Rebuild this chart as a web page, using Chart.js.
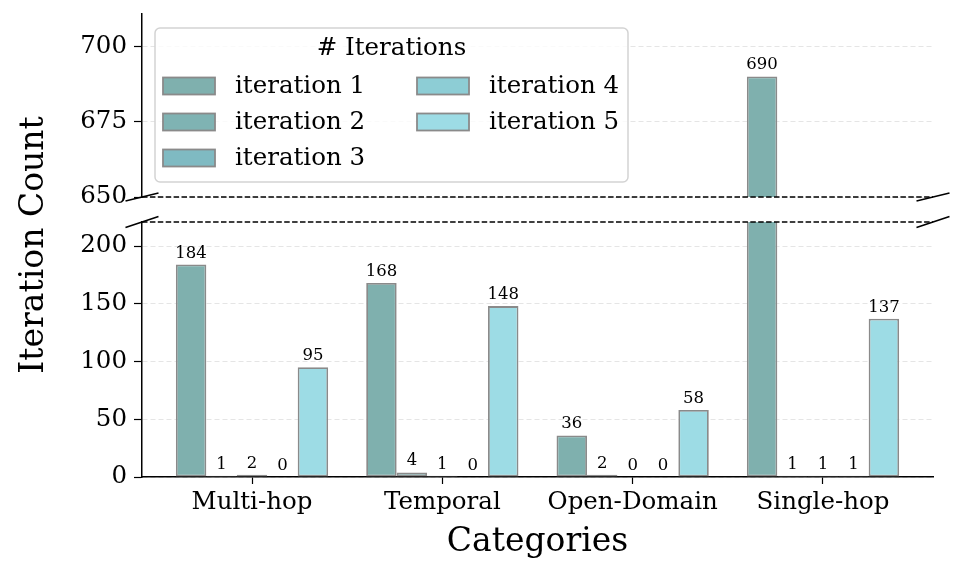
<!DOCTYPE html>
<html>
<head>
<meta charset="utf-8">
<script src="https://cdn.jsdelivr.net/npm/chart.js@4.4.1/dist/chart.umd.min.js"></script>
<style>
  html, body { margin: 0; padding: 0; background: #fff; }
  #wrap { position: relative; width: 964px; height: 572px; }
  #wrap canvas { position: absolute; left: 0; top: 0; }
</style>
</head>
<body>
<div id="wrap">
  <canvas id="chartBajo" width="964" height="572"></canvas>
  <canvas id="chartAlto" width="964" height="205"></canvas>
</div>
<script>
/**************************************
 * 1. DATOS
 **************************************/
const categorias = ["Multi-hop", "Temporal", "Open-Domain", "Single-hop"];
const iteracion1 = [184, 168, 36, 690];
const iteracion2 = [1, 4, 2, 1];
const iteracion3 = [2, 1, 0, 1];
const iteracion4 = [0, 0, 0, 1];
const iteracion5 = [95, 148, 58, 137];

const nombres = ["iteration 1", "iteration 2", "iteration 3", "iteration 4", "iteration 5"];
const colores = ["#7fb0ae", "#7fb3b3", "#7fbac2", "#8dcdd5", "#9ddce5"];

const ticksAlto = [650, 675, 700];
const ticksBajo = [0, 50, 100, 150, 200];
const rangoAlto = [650, 710.7];
const rangoBajo = [0, 220.8];

const series = [iteracion1, iteracion2, iteracion3, iteracion4, iteracion5];
const FUENTE = "'DejaVu Serif', serif";

Chart.defaults.font.family = FUENTE;
Chart.defaults.color = "#000";

/**************************************
 * 2. PLUGINS (etiquetas, corte del eje, leyenda)
 **************************************/
const etiquetasValor = {
    id: "etiquetasValor",
    afterDatasetsDraw(chart) {
        const ctx = chart.ctx;
        const maxY = chart.scales.y.max;
        ctx.save();
        ctx.font = "16.5px " + FUENTE;
        ctx.fillStyle = "#000";
        ctx.textAlign = "center";
        ctx.textBaseline = "bottom";
        chart.data.datasets.forEach((ds, i) => {
            chart.getDatasetMeta(i).data.forEach((barra, j) => {
                const v = ds.data[j].y;
                if (v === null || v > maxY) return;
                ctx.fillText(String(v), barra.x, barra.y - 3);
            });
        });
        ctx.restore();
    }
};

// linea discontinua + marcas diagonales del eje partido
const corteEje = {
    id: "corteEje",
    afterDraw(chart, args, opts) {
        const { ctx, chartArea } = chart;
        const y = opts.lado === "abajo" ? chartArea.bottom : chartArea.top;
        const dy = opts.dy;
        ctx.save();
        ctx.strokeStyle = "#000";
        ctx.lineWidth = 1.5;
        ctx.setLineDash([5.5, 2.4]);
        ctx.beginPath();
        ctx.moveTo(chartArea.left, y);
        ctx.lineTo(chartArea.right, y);
        ctx.stroke();
        ctx.setLineDash([]);
        [chartArea.left, chartArea.right].forEach(x => {
            ctx.beginPath();
            ctx.moveTo(x - 16.5, y + dy);
            ctx.lineTo(x + 16.5, y - dy);
            ctx.stroke();
        });
        ctx.restore();
    }
};

const leyenda = {
    id: "leyenda",
    afterDatasetsDraw(chart) {
        const { ctx, chartArea } = chart;
        const x0 = chartArea.left + 13, y0 = chartArea.top + 14;
        const w = 473, h = 154;
        ctx.save();
        ctx.fillStyle = "rgba(255,255,255,0.8)";
        ctx.strokeStyle = "#d3d3d3";
        ctx.lineWidth = 1.5;
        ctx.beginPath();
        ctx.roundRect(x0, y0, w, h, 5);
        ctx.fill();
        ctx.stroke();

        ctx.fillStyle = "#000";
        ctx.font = "24.5px " + FUENTE;
        ctx.textAlign = "center";
        ctx.textBaseline = "middle";
        ctx.fillText("# Iterations", x0 + w / 2, y0 + 21);

        ctx.textAlign = "left";
        chart.data.datasets.forEach((ds, i) => {
            const col = i < 3 ? 0 : 1;
            const fila = i < 3 ? i : i - 3;
            const px = x0 + 8 + col * 254;
            const py = y0 + 58 + fila * 36;
            ctx.fillStyle = ds.backgroundColor;
            ctx.fillRect(px, py - 8.5, 52, 17);
            ctx.strokeStyle = "#8a8a8a";
            ctx.lineWidth = 1.8;
            ctx.strokeRect(px, py - 8.5, 52, 17);
            ctx.fillStyle = "#000";
            ctx.fillText(ds.label, px + 72, py + 1);
        });
        ctx.restore();
    }
};

const tituloY = {
    id: "tituloY",
    afterDraw(chart) {
        const ctx = chart.ctx;
        ctx.save();
        ctx.translate(34, 245);
        ctx.rotate(-Math.PI / 2);
        ctx.font = "33px " + FUENTE;
        ctx.fillStyle = "#000";
        ctx.textAlign = "center";
        ctx.textBaseline = "middle";
        ctx.fillText("Iteration Count", 0, 0);
        ctx.restore();
    }
};

/**************************************
 * 3. GRAFICAS (panel alto y panel bajo)
 **************************************/
function armarDatasets(filtro) {
    return series.map((valores, i) => ({
        label: nombres[i],
        data: valores.map((v, j) => ({ x: j, y: filtro(v) ? v : null })),
        backgroundColor: colores[i],
        borderColor: "#8a8a8a",
        borderWidth: 1.8,
        borderSkipped: false,
        categoryPercentage: 0.8,
        barPercentage: 1.0,
        clip: 0
    }));
}

function ejeX(visible) {
    return {
        type: "linear",
        display: visible,
        offset: false,
        min: -0.578,
        max: 3.578,
        afterBuildTicks: s => { s.ticks = categorias.map((c, i) => ({ value: i })); },
        afterFit: s => {
            if (visible) s.height = 95;
            s.paddingLeft = 0;
            s.paddingRight = 0;
        },
        ticks: {
            callback: v => categorias[v],
            font: { size: 24.5 },
            color: "#000",
            padding: 4,
            autoSkip: false,
            maxRotation: 0
        },
        grid: { display: true, offset: false, drawOnChartArea: false, tickLength: 7, tickColor: "#000", tickWidth: 1.2 },
        border: { color: "#000", width: 1.5 },
        title: {
            display: visible,
            text: "Categories",
            font: { size: 33 },
            color: "#000",
            padding: { top: 0, bottom: 10 }
        }
    };
}

function ejeY(rango, marcas) {
    return {
        min: rango[0],
        max: rango[1],
        afterBuildTicks: s => { s.ticks = marcas.map(v => ({ value: v })); },
        afterFit: s => {
            s.width = 142;
            s.paddingTop = 0;
            s.paddingBottom = 0;
        },
        ticks: { font: { size: 24.5 }, color: "#000", padding: 7 },
        grid: {
            color: "rgba(0,0,0,0.1)",
            tickColor: "#000",
            tickLength: 8,
            tickWidth: 1.2,
            tickBorderDash: []
        },
        border: { color: "#000", width: 1.5, dash: [5, 3] }
    };
}

new Chart(document.getElementById("chartBajo"), {
    type: "bar",
    data: { datasets: armarDatasets(v => true) },
    options: {
        responsive: false,
        animation: false,
        layout: { padding: { top: 222, right: 31, left: 0, bottom: 0 } },
        plugins: {
            legend: { display: false },
            tooltip: { enabled: false },
            corteEje: { lado: "arriba", dy: 5.5 }
        },
        scales: { x: ejeX(true), y: ejeY(rangoBajo, ticksBajo) }
    },
    plugins: [etiquetasValor, corteEje, tituloY]
});

new Chart(document.getElementById("chartAlto"), {
    type: "bar",
    data: { datasets: armarDatasets(v => v >= rangoAlto[0]) },
    options: {
        responsive: false,
        animation: false,
        layout: { padding: { top: 14, right: 31, left: 0, bottom: 8 } },
        plugins: {
            legend: { display: false },
            tooltip: { enabled: false },
            corteEje: { lado: "abajo", dy: 4 }
        },
        scales: { x: ejeX(false), y: ejeY(rangoAlto, ticksAlto) }
    },
    plugins: [etiquetasValor, corteEje, leyenda]
});
</script>
</body>
</html>
